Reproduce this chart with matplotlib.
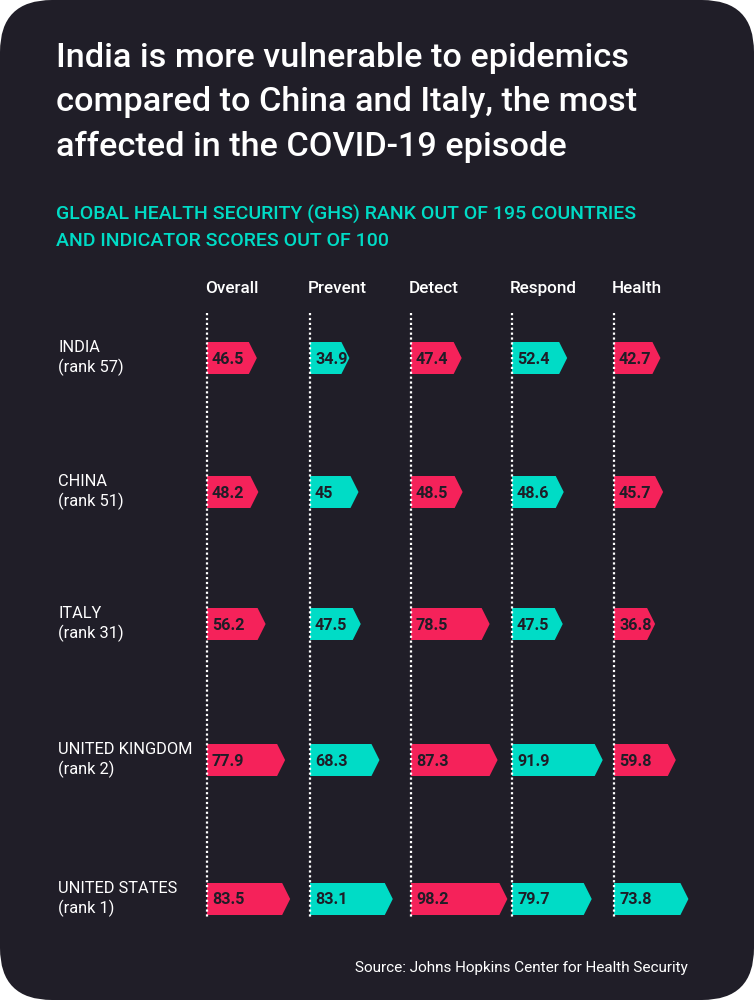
import matplotlib
matplotlib.use("Agg")
import matplotlib.pyplot as plt
from matplotlib.patches import FancyBboxPatch, Polygon

# data
countries = ["INDIA", "CHINA", "ITALY", "UNITED KINGDOM", "UNITED STATES"]
ranks = [57, 51, 31, 2, 1]
indicators = ["Overall", "Prevent", "Detect", "Respond", "Health"]
scores = [
    [46.5, 34.9, 47.4, 52.4, 42.7],
    [48.2, 45.0, 48.5, 48.6, 45.7],
    [56.2, 47.5, 78.5, 47.5, 36.8],
    [77.9, 68.3, 87.3, 91.9, 59.8],
    [83.5, 83.1, 98.2, 79.7, 73.8],
]
score_labels = [
    ["46.5", "34.9", "47.4", "52.4", "42.7"],
    ["48.2", "45", "48.5", "48.6", "45.7"],
    ["56.2", "47.5", "78.5", "47.5", "36.8"],
    ["77.9", "68.3", "87.3", "91.9", "59.8"],
    ["83.5", "83.1", "98.2", "79.7", "73.8"],
]
# p = pink, t = teal
shades = [
    "ptptp",
    "ptptp",
    "ptptp",
    "ptptp",
    "ptptt",
]

BG = "#201e28"
PINK = "#f5225a"
TEAL = "#00dcc6"
DARK = "#1f1d27"
cmap = {"p": PINK, "t": TEAL}

plt.rcParams["font.family"] = ["Roboto", "DejaVu Sans"]

fig = plt.figure(figsize=(7.54, 10), dpi=100)
fig.patch.set_facecolor("white")
ax = fig.add_axes([0, 0, 1, 1])
ax.set_xlim(0, 754)
ax.set_ylim(1000, 0)
ax.axis("off")

panel = FancyBboxPatch((50, 50), 654, 900, boxstyle="round,pad=50,rounding_size=52",
                       fc=BG, ec="none", zorder=0)
ax.add_patch(panel)

title = ("India is more vulnerable to epidemics\n"
         "compared to China and Italy, the most\n"
         "affected in the COVID-19 episode")
ax.text(56, 42, title, color="white", fontsize=24.7, fontweight="medium",
        va="top", ha="left", linespacing=1.5)

ax.text(56, 205, "GLOBAL HEALTH SECURITY (GHS) RANK OUT OF 195 COUNTRIES\n"
        "AND INDICATOR SCORES OUT OF 100", color=TEAL, fontsize=14,
        fontweight="medium", va="top", ha="left", linespacing=1.6)

col_x = [207, 310, 411, 512, 614]
row_y = [358, 492, 624, 760, 899]
half_h = 16
tip = 8

for j, name in enumerate(indicators):
    ax.text(col_x[j] - 2, 293, name, color="white", fontsize=12.3,
            fontweight="medium", va="baseline", ha="left")
    ax.plot([col_x[j], col_x[j]], [313, 917], color="white", lw=1.6,
            ls=(0, (1, 1.2)), zorder=3)

for i, c in enumerate(countries):
    ax.text(58, row_y[i], f"{c}\n(rank {ranks[i]})", color="white",
            fontsize=11.8, va="center", ha="left", linespacing=1.25)
    for j in range(len(indicators)):
        x0 = col_x[j]
        w = scores[i][j] * 0.9 + 8
        y = row_y[i]
        pts = [(x0, y - half_h), (x0 + w - tip, y - half_h), (x0 + w, y),
               (x0 + w - tip, y + half_h), (x0, y + half_h)]
        ax.add_patch(Polygon(pts, closed=True, fc=cmap[shades[i][j]],
                             ec="none", zorder=2))
        ax.text(x0 + 5, y + 1, score_labels[i][j], color=DARK, fontsize=11.6,
                fontweight="bold", va="center", ha="left", zorder=4)

ax.text(688, 968, "Source: Johns Hopkins Center for Health Security",
        color="white", fontsize=11, va="center", ha="right")

fig.savefig("out.png", dpi=100, facecolor="white")
